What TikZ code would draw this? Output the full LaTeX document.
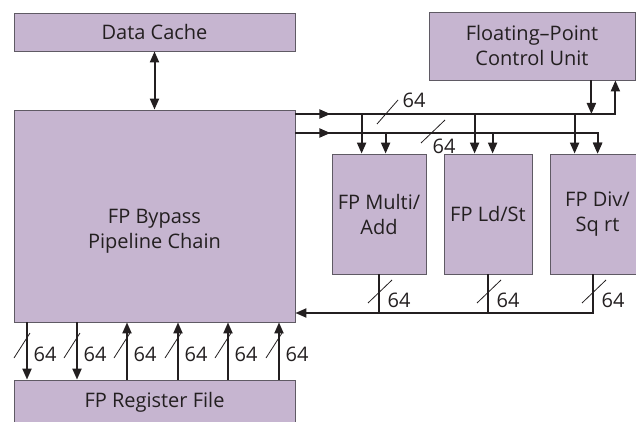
\documentclass[tikz,border=0pt]{standalone}
\usepackage{fontspec}
\setmainfont{Open Sans}
\usetikzlibrary{arrows.meta, positioning, calc}
\definecolor{unitFill}{RGB}{198, 181, 208}
\definecolor{unitLine}{RGB}{95, 90, 100}
\definecolor{inkColor}{RGB}{35, 31, 32}

\begin{document}
\begin{tikzpicture}[x=1pt, y=-1pt,
    unit/.style={rectangle, draw=unitLine, fill=unitFill, line width=0.8pt, text=inkColor,
        align=center, inner sep=0pt, font=\fontsize{20}{25}\selectfont},
    bus/.style={line width=2pt, draw=inkColor},
    busarrow/.style={bus, -{Triangle[length=11pt, width=9pt]}},
    slash/.style={line width=0.8pt, draw=inkColor},
    buswidth/.style={text=inkColor, inner sep=0pt, font=\fontsize{20}{22}\selectfont}]
        \useasboundingbox (0,0) rectangle (636,422);

        % Memory side
        \node[unit, minimum width=281pt, minimum height=38pt] (cache) at (154.5,32) {Data Cache};
        \node[unit, minimum width=281pt, minimum height=212pt, align=none, text height=40pt, text depth=0pt]
            (bypass) at (154.5,216) {\begin{tabular}{@{}c@{}}FP Bypass\\Pipeline Chain\end{tabular}};
        \node[unit, minimum width=281pt, minimum height=44pt] (regfile) at (154.5,402) {FP Register File};

        % Floating-point units
        \node[unit, minimum width=206pt, minimum height=68pt] (fpcu) at (532,46) {Floating–Point\\Control Unit};
        \node[unit, minimum width=94pt, minimum height=120pt] (multi) at (379,214) {FP Multi/\\Add};
        \node[unit, minimum width=88pt, minimum height=120pt] (ldst) at (488,214) {FP Ld/St};
        \node[unit, minimum width=95pt, minimum height=120pt] (div) at (597.5,214) {FP Div/\\Sq rt};

        \coordinate (busA) at (bypass.east |- 0,114);
        \coordinate (busB) at (bypass.east |- 0,133);
        \coordinate (retA) at (bypass.east |- 0,313);
        \coordinate (cuOut) at ($(fpcu.south east)+(-44,0)$);
        \coordinate (cuIn) at ($(fpcu.south east)+(-20,0)$);

        % Cache port
        \draw[bus, {Triangle[length=11pt, width=9pt]}-{Triangle[length=11pt, width=9pt]}] (cache.south) -- (bypass.north);

        % Result buses to the units
        \draw[busarrow] (busA) -| (cuIn);
        \draw[busarrow] (busA) -- ++(35,0);
        \draw[busarrow] (busB) -| ($(div.north west)+(48,0)$);
        \draw[busarrow] (busB) -- ++(35,0);
        \draw[busarrow] (cuOut) -- (cuOut |- busA);
        \foreach \u/\da/\db in {multi/30/54, ldst/31/49, div/25/48} {
            \path ($(\u.north west)+(\da,0)$) coordinate (dropA);
            \path ($(\u.north west)+(\db,0)$) coordinate (dropB);
            \draw[busarrow] (dropA |- busA) -- (dropA);
            \draw[busarrow] (dropB |- busB) -- (dropB);
        }
        \draw[slash] (377,124) -- (398,100);
        \node[buswidth] (wA) at (414,100) {64};
        \draw[slash] (421,143) -- (445,120);
        \node[buswidth] (wB) at (444,146) {64};

        % Write-back bus
        \draw[busarrow] ($(div.south west)+(43,0)$) |- (retA);
        \draw[bus] (multi.south) -- (multi.south |- retA);
        \draw[bus] (ldst.south) -- (ldst.south |- retA);
        \foreach \x [count=\i] in {379,488,593} {
            \draw[slash] (\x-11,303) -- ++(24,-23);
            \node[buswidth] (wr\i) at (\x+20,300) {64};
        }

        % Register file ports
        \foreach \x in {27,77}
            \draw[busarrow] (\x,0 |- bypass.south) -- (\x,0 |- regfile.north);
        \foreach \x in {127,178,228,279}
            \draw[busarrow] (\x,0 |- regfile.north) -- (\x,0 |- bypass.south);
        \foreach \x [count=\i] in {27,77,127,178,228,279} {
            \draw[slash] (\x-13,358) -- ++(16,-25);
            \node[buswidth] (rf\i) at (\x+18,354) {64};
        }
    \end{tikzpicture}
\end{document}
